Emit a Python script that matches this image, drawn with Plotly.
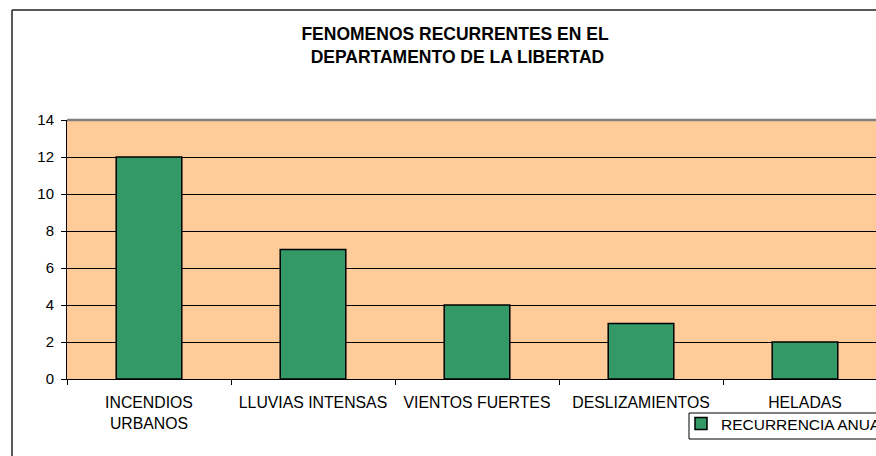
import plotly.graph_objects as go

categories = ["INCENDIOS<br>URBANOS", "LLUVIAS INTENSAS", "VIENTOS FUERTES", "DESLIZAMIENTOS", "HELADAS"]
values = [12, 7, 4, 3, 2]
series_name = "RECURRENCIA ANUAL"
title_lines = ["FENOMENOS RECURRENTES EN EL", " DEPARTAMENTO DE LA LIBERTAD"]
y_ticks = [0, 2, 4, 6, 8, 10, 12, 14]

W, H = 876, 456
L, R, T = 67, 0, 120
B = H - 379
plot_w = W - L - R
plot_h = H - T - B

def px_x(px):
    return (px - L) / plot_w

def px_y(py):
    return (H - B - py) / plot_h

font = "Liberation Sans, Arial, sans-serif"

fig = go.Figure()
fig.add_trace(go.Bar(
    x=categories, y=values, name=series_name, width=0.4,
    marker=dict(color="#339966", line=dict(color="black", width=1.5)),
    showlegend=True,
))

fig.update_layout(
    width=W, height=H,
    margin=dict(l=L, r=R, t=T, b=B, autoexpand=False),
    paper_bgcolor="white", plot_bgcolor="#FFCC99",
    font=dict(family=font, size=15, color="black"),
    title=dict(text="<b>" + title_lines[0] + "<br>" + title_lines[1] + "</b>",
               x=455 / W, xanchor="center", xref="container",
               y=1 - 40 / H, yanchor="top", yref="container",
               font=dict(family=font, size=17.5, color="black")),
    showlegend=True,
    legend=dict(x=px_x(681), y=px_y(407), xanchor="left", yanchor="top",
                borderwidth=0, bgcolor="rgba(0,0,0,0)",
                font=dict(family=font, size=15.5), itemwidth=30),
    xaxis=dict(type="category", range=[-0.5, 4.5 - 11 / 164],
               showline=True, linecolor="black", linewidth=1,
               ticks="outside", tickson="boundaries", ticklen=5, tickcolor="black",
               showgrid=False, tickfont=dict(size=15.8), ticklabelstandoff=9),
    yaxis=dict(range=[0, 14], tickvals=y_ticks, showline=True, linecolor="black", linewidth=1,
               ticks="outside", ticklen=5, tickcolor="black",
               showgrid=True, gridcolor="black", gridwidth=1, zeroline=False,
               tickfont=dict(size=15), ticklabelstandoff=4),
)

# legend frame
fig.add_shape(type="rect", xref="paper", yref="paper", x0=px_x(689), x1=px_x(900),
              y0=px_y(413), y1=px_y(439), line=dict(color="black", width=1), layer="below")
# plot-area top border (gray) and outer chart border
fig.add_shape(type="line", xref="paper", yref="paper", x0=0, x1=1.02, y0=1, y1=1,
              line=dict(color="#808080", width=2.5))
fig.add_shape(type="line", xref="paper", yref="paper", x0=px_x(12), x1=px_x(12),
              y0=px_y(10), y1=px_y(470), line=dict(color="#222222", width=1.5))
fig.add_shape(type="line", xref="paper", yref="paper", x0=px_x(12), x1=px_x(880),
              y0=px_y(10), y1=px_y(10), line=dict(color="#222222", width=1.5))

fig.write_html("out.html", config={"displayModeBar": False},
               post_script="document.body.style.margin='0';document.body.style.overflow='hidden';")
